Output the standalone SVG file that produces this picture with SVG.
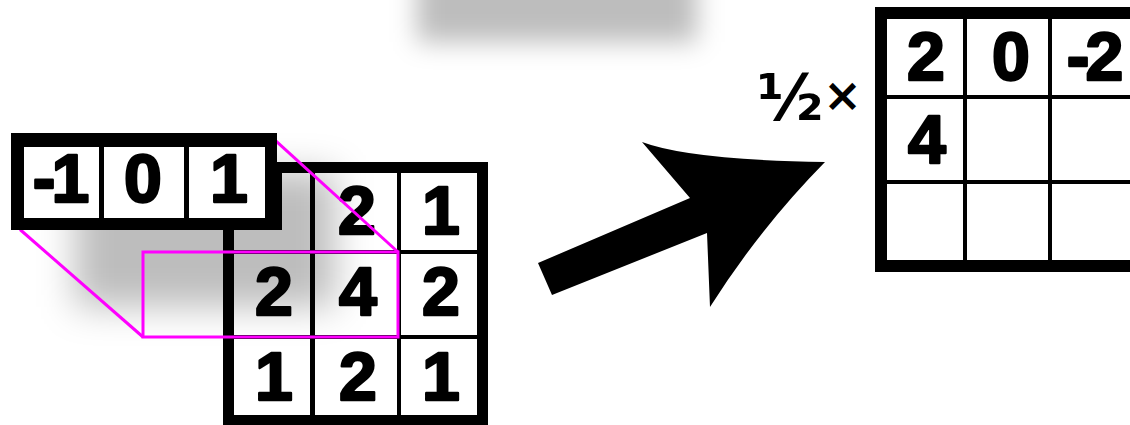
<svg xmlns="http://www.w3.org/2000/svg" width="1130" height="425" viewBox="0 0 1130 425">
  <defs>
    <style>
      .frame { fill: #000; }
      .cell { fill: #fff; }
      .dg { font-family: "Liberation Sans", Arial, sans-serif; font-weight: 700; font-size: 68px; text-anchor: middle; fill: #000; stroke: #000; stroke-width: 2.5px; stroke-linejoin: round; }
      .hl { fill: none; stroke: #ff00ff; stroke-width: 3; }
      .shadow { fill: #000; fill-opacity: 0.26; }
    </style>
    <filter id="blur20" x="-50%" y="-50%" width="200%" height="200%">
      <feGaussianBlur stdDeviation="18"/>
    </filter>
    <filter id="blur13" x="-50%" y="-50%" width="200%" height="200%">
      <feGaussianBlur stdDeviation="13"/>
    </filter>
  </defs>
  <rect width="1130" height="425" fill="#fff"/>

  <!-- top shadow -->
  <rect id="top-shadow" class="shadow" x="417" y="-60" width="280" height="102" filter="url(#blur13)"/>

  <!-- input image 3x3 -->
  <g id="image">
    <rect class="frame" x="223" y="162" width="265" height="270"/>
    <rect class="cell" x="234" y="173" width="76" height="77"/>
    <rect class="cell" x="315" y="173" width="82" height="77"/>
    <rect class="cell" x="401" y="173" width="76" height="77"/>
    <rect class="cell" x="234" y="254" width="76" height="81"/>
    <rect class="cell" x="315" y="254" width="82" height="81"/>
    <rect class="cell" x="401" y="254" width="76" height="81"/>
    <rect class="cell" x="234" y="339" width="76" height="76"/>
    <rect class="cell" x="315" y="339" width="82" height="76"/>
    <rect class="cell" x="401" y="339" width="76" height="76"/>
    <text class="dg" x="357" y="234">2</text>
    <text class="dg" x="441" y="234">1</text>
    <text class="dg" x="274" y="315">2</text>
    <text class="dg" x="358" y="315">4</text>
    <text class="dg" x="441" y="315">2</text>
    <text class="dg" x="274" y="400">1</text>
    <text class="dg" x="358" y="400">2</text>
    <text class="dg" x="441" y="400">1</text>
  </g>

  <!-- kernel shadow -->
  <rect id="kernel-shadow" class="shadow" x="75" y="172" width="260" height="135" filter="url(#blur20)"/>

  <!-- connectors -->
  <g id="connectors">
    <line class="hl" x1="270" y1="135.6" x2="398" y2="252"/>
    <line class="hl" x1="20" y1="229.5" x2="143" y2="337"/>
    <rect class="hl" x="143" y="252" width="255" height="85"/>
    <path id="arrow" d="M538 263 L690 198 L642 142 Q690 160 825 162 Q760 228 710 307 L707 233 L552 295 Z" fill="#000"/>
  </g>

  <!-- kernel -->
  <g id="kernel">
    <rect class="frame" x="11" y="133" width="266" height="97"/>
    <rect class="frame" x="276" y="172" width="6" height="58"/>
    <rect class="cell" x="24" y="147" width="75" height="71"/>
    <rect class="cell" x="104" y="147" width="80" height="71"/>
    <rect class="cell" x="189" y="147" width="76" height="71"/>
    <text class="dg" x="59" y="202" letter-spacing="-4">-1</text>
    <text class="dg" x="143" y="202">0</text>
    <text class="dg" x="229" y="202">1</text>
  </g>

  <!-- scale factor -->
  <g id="factor">
    <text x="757" y="120" font-family="'DejaVu Sans', sans-serif" font-weight="700" font-size="64px" fill="#000">½<tspan font-size="46px" dy="-9">×</tspan></text>
  </g>

  <!-- output -->
  <g id="output">
    <rect class="frame" x="875" y="7" width="270" height="265"/>
    <rect class="cell" x="887" y="19" width="76" height="76"/>
    <rect class="cell" x="967" y="19" width="81" height="76"/>
    <rect class="cell" x="1052" y="19" width="80" height="76"/>
    <rect class="cell" x="887" y="99" width="76" height="81"/>
    <rect class="cell" x="967" y="99" width="81" height="81"/>
    <rect class="cell" x="1052" y="99" width="80" height="81"/>
    <rect class="cell" x="887" y="184" width="76" height="76"/>
    <rect class="cell" x="967" y="184" width="81" height="76"/>
    <rect class="cell" x="1052" y="184" width="80" height="76"/>
    <text class="dg" x="926" y="80">2</text>
    <text class="dg" x="1011" y="80">0</text>
    <text class="dg" x="1093" y="80" letter-spacing="-4">-2</text>
    <text class="dg" x="927" y="163">4</text>
  </g>
</svg>
